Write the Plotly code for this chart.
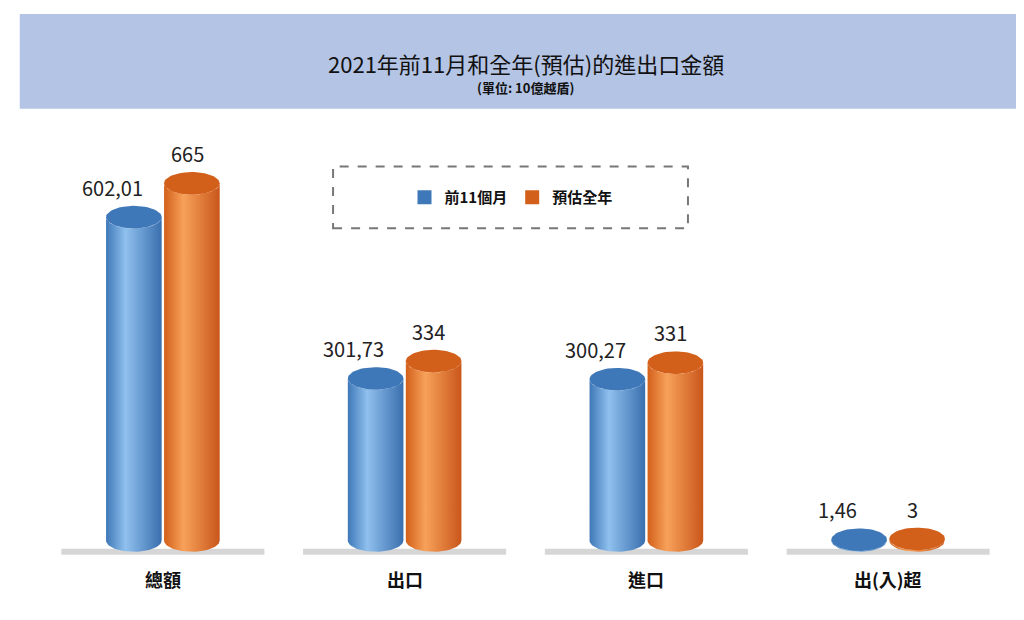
import numpy as np
import plotly.graph_objects as go

# data
CATEGORIES = ["總額", "出口", "進口", "出(入)超"]
SERIES = ["前11個月", "預估全年"]
MONTHS_11 = [602.01, 301.73, 300.27, 1.46]
FULL_YEAR = [665, 334, 331, 3]
LABELS_11 = ["602,01", "301,73", "300,27", "1,46"]
LABELS_FY = ["665", "334", "331", "3"]

BLUE = ["#3f78b8", "#8fc0ee", "#3a6fae"]
ORANGE = ["#d3601a", "#f7a15a", "#c9561a"]
HALF_W = 0.115
OFFSET = 0.12
EY = 21  # ellipse half-height in data units


def cylinder(fig, xc, v, cols, name):
    t = np.linspace(np.pi, 0, 40)
    # body: left side up, top front arc, right side down, bottom front arc
    xs = np.concatenate([[xc - HALF_W], xc + HALF_W * np.cos(t), [xc + HALF_W],
                         xc + HALF_W * np.cos(t[::-1])])
    ys = np.concatenate([[0], v - EY * np.sin(t), [0], -EY * np.sin(t[::-1])])
    fig.add_trace(go.Scatter(
        x=xs, y=ys, mode="lines", line={"width": 0}, fill="toself",
        fillgradient={"type": "horizontal",
                      "colorscale": [[0, cols[0]], [0.35, cols[1]], [1, cols[2]]]},
        hoverinfo="skip", showlegend=False, name=name))
    tt = np.linspace(0, 2 * np.pi, 60)
    fig.add_trace(go.Scatter(
        x=xc + HALF_W * np.cos(tt), y=v + EY * np.sin(tt), mode="lines",
        line={"width": 0}, fill="toself", fillcolor=cols[0],
        hoverinfo="skip", showlegend=False))


def main():
    fig = go.Figure()

    for i, cat in enumerate(CATEGORIES):
        # ground shadow
        fig.add_trace(go.Scatter(
            x=[i - 0.42, i + 0.42], y=[-EY, -EY], mode="lines",
            line={"color": "rgba(120,120,120,0.3)", "width": 6},
            hoverinfo="skip", showlegend=False))
        cylinder(fig, i - OFFSET, MONTHS_11[i], BLUE, SERIES[0])
        cylinder(fig, i + OFFSET, FULL_YEAR[i], ORANGE, SERIES[1])
        fig.add_annotation(x=i - OFFSET - 0.09, y=MONTHS_11[i] + EY, text=LABELS_11[i],
                           showarrow=False, yanchor="bottom", yshift=2,
                           font={"size": 20, "color": "#222"})
        fig.add_annotation(x=i + OFFSET - 0.02, y=FULL_YEAR[i] + EY, text=LABELS_FY[i],
                           showarrow=False, yanchor="bottom", yshift=2,
                           font={"size": 20, "color": "#222"})
        fig.add_annotation(x=i, xref="x", yref="paper", y=0, yshift=-32,
                           text="<b>%s</b>" % cat, showarrow=False,
                           font={"size": 18, "color": "#111"})

    # legend entries
    for name, col in zip(SERIES, [BLUE[0], ORANGE[0]]):
        fig.add_trace(go.Scatter(x=[None], y=[None], mode="markers", name="<b>%s</b>" % name,
                                 marker={"symbol": "square", "size": 14, "color": col}))

    # title band
    fig.add_shape(type="rect", xref="paper", yref="paper", x0=-0.023, x1=1.011,
                  y0=1.10, y1=1.33, fillcolor="#b4c4e4", line={"width": 0}, layer="below")
    fig.add_annotation(xref="paper", yref="paper", x=0.5, y=1.255, showarrow=False,
                       text="2021年前11月和全年(預估)的進出口金額",
                       font={"size": 22, "color": "#111"})
    fig.add_annotation(xref="paper", yref="paper", x=0.5, y=1.18, showarrow=False,
                       text="<b>(單位: 10億越盾)</b>", font={"size": 13, "color": "#111"})
    # dashed legend frame
    fig.add_shape(type="rect", xref="paper", yref="paper", x0=0.301, x1=0.668,
                  y0=0.81, y1=0.96, line={"color": "#777", "width": 2, "dash": "dash"})

    fig.update_layout(
        width=1024, height=620,
        margin={"l": 34, "r": 23, "t": 142, "b": 66},
        paper_bgcolor="white", plot_bgcolor="white",
        font={"family": "Noto Sans CJK TC, Noto Sans, sans-serif"},
        xaxis={"range": [-0.5, 3.5], "visible": False},
        yaxis={"range": [-40, 727], "visible": False},
        legend={"orientation": "h", "x": 0.485, "y": 0.885, "xanchor": "center",
                "yanchor": "middle", "font": {"size": 15, "color": "#111"},
                "bgcolor": "rgba(0,0,0,0)"},
        showlegend=True,
    )
    fig.write_html("out.html")


if __name__ == "__main__":
    main()
